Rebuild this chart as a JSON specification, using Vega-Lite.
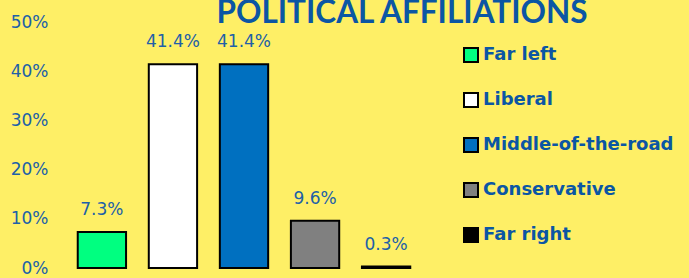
{
  "$schema": "https://vega.github.io/schema/vega-lite/v6.json",
  "autosize": "none",
  "width": 378,
  "height": 246,
  "padding": {"left": 55, "top": 22, "right": 256, "bottom": 10},
  "background": "#FEEF66",
  "title": {
    "text": "POLITICAL AFFILIATIONS",
    "font": "Lato",
    "fontSize": 31.5,
    "fontWeight": "bold",
    "color": "#0B56A4",
    "anchor": "middle",
    "frame": "group",
    "baseline": "alphabetic",
    "dx": 158,
    "dy": 41,
    "offset": 0
  },
  "config": {"view": {"stroke": null}},
  "data": {
    "values": [
      {"group": "Far left", "value": 0.073, "label": "7.3%"},
      {"group": "Liberal", "value": 0.414, "label": "41.4%"},
      {"group": "Middle-of-the-road", "value": 0.414, "label": "41.4%"},
      {"group": "Conservative", "value": 0.096, "label": "9.6%"},
      {"group": "Far right", "value": 0.003, "label": "0.3%"}
    ]
  },
  "encoding": {
    "x": {
      "field": "group",
      "type": "nominal",
      "sort": null,
      "scale": {"paddingInner": 0.32, "paddingOuter": 0.32},
      "axis": null
    },
    "y": {
      "field": "value",
      "type": "quantitative",
      "scale": {"domain": [0, 0.5], "nice": false},
      "axis": {
        "values": [0, 0.1, 0.2, 0.3, 0.4, 0.5],
        "format": ".0%",
        "domain": false,
        "ticks": false,
        "grid": false,
        "labelFont": "DejaVu Sans",
        "labelFontSize": 17,
        "labelColor": "#2060A8",
        "labelPadding": 7,
        "title": null
      }
    }
  },
  "layer": [
    {
      "mark": {"type": "bar", "stroke": "black", "strokeWidth": 2},
      "encoding": {
        "color": {
          "field": "group",
          "type": "nominal",
          "sort": null,
          "scale": {
            "domain": ["Far left", "Liberal", "Middle-of-the-road", "Conservative", "Far right"],
            "range": ["#00FF80", "#FFFFFF", "#0070C0", "#808080", "#000000"]
          },
          "legend": {
            "orient": "none",
            "legendX": 407,
            "legendY": 24,
            "title": null,
            "symbolType": "square",
            "symbolSize": 196,
            "symbolStrokeColor": "black",
            "symbolStrokeWidth": 2,
            "labelFont": "DejaVu Sans",
            "labelFontSize": 18,
            "labelFontWeight": "bold",
            "labelColor": "#0B56A4",
            "labelOffset": 3,
            "rowPadding": 23,
            "labelLimit": 300
          }
        }
      }
    },
    {
      "mark": {
        "type": "text",
        "baseline": "alphabetic",
        "dy": -17,
        "font": "DejaVu Sans",
        "fontSize": 17,
        "color": "#2060A8"
      },
      "encoding": {"text": {"field": "label"}}
    }
  ]
}
